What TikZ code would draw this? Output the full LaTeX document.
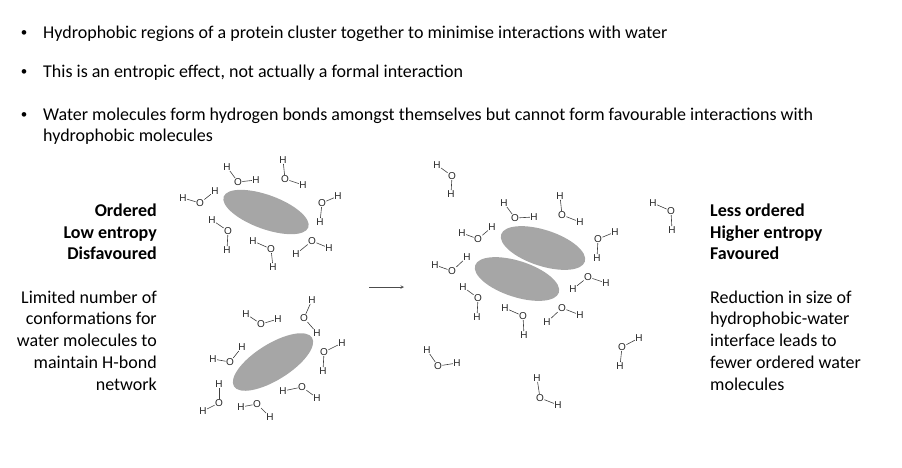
\documentclass[tikz,border=0pt]{standalone}
\usepackage{fontspec}
\setmainfont{Carlito}
\newfontfamily\wfont{Liberation Sans}
\newcounter{wc}
\newcommand{\water}[6]{%
  \stepcounter{wc}%
  \node[atom] (o\thewc) at (#1,#2) {O};
  \node[atom] (ha\thewc) at (#3,#4) {H};
  \node[atom] (hb\thewc) at (#5,#6) {H};
  \draw[bond] (o\thewc) -- (ha\thewc);
  \draw[bond] (o\thewc) -- (hb\thewc);}
\begin{document}
\begin{tikzpicture}[x=1pt,y=-1pt,
  atom/.style={font=\wfont\fontsize{10}{10}\selectfont,inner sep=0.3pt,text=black!85},
  bond/.style={draw=black!75,line width=0.6pt},
  txt/.style={font=\fontsize{18}{21}\selectfont,inner sep=0pt},
  blob/.style={fill=black!35,draw=none}]
\useasboundingbox (0,0) rectangle (902,467);
% bullets
\foreach \y/\t in {34/{Hydrophobic regions of a protein cluster together to minimise interactions with water},
  73/{This is an entropic effect, not actually a formal interaction},
  116/{Water molecules form hydrogen bonds amongst themselves but cannot form favourable interactions with}}
  {\node[txt,font=\fontsize{13}{13}\selectfont] at (24,\y) {•}; \node[txt,anchor=west] at (43,\y) {\t};}
\node[txt,anchor=west] (b3b) at (43,137) {hydrophobic molecules};
% left labels
\node[txt,anchor=east,align=right,font=\bfseries\fontsize{18}{21.5}\selectfont] (lt) at (157,232) {Ordered\\Low entropy\\Disfavoured};
\node[txt,anchor=east,align=right,font=\fontsize{18}{21.7}\selectfont] (lb) at (157,340.5) {Limited number of\\conformations for\\water molecules to\\maintain H-bond\\network};
\node[txt,anchor=west,align=left,font=\bfseries\fontsize{18}{21.5}\selectfont] (rt) at (710,232) {Less ordered\\Higher entropy\\Favoured};
\node[txt,anchor=west,align=left,font=\fontsize{18}{21.7}\selectfont] (rb) at (710,340.5) {Reduction in size of\\hydrophobic-water\\interface leads to\\fewer ordered water\\molecules};
% arrow
\coordinate (a1) at (369,287); \coordinate (a2) at (404,287);
\draw[-stealth,black!70,line width=0.6pt] (a1) -- (a2);
% blobs
\fill[blob,rotate around={-20:(266,212)}] (266,212) ellipse [x radius=45,y radius=17];
\fill[blob,rotate around={32:(273,362)}] (273,362) ellipse [x radius=46,y radius=18];
\fill[blob,rotate around={-18:(543,248)}] (543,248) ellipse [x radius=44,y radius=18];
\fill[blob,rotate around={-18:(517,279)}] (517,279) ellipse [x radius=44,y radius=18];
% waters left top
\water{238}{182}{227}{167}{256}{180}
\water{285}{179}{283}{160}{303}{185}
\water{200}{203}{183}{198}{215}{191}
\water{322}{203}{338}{196}{320}{222}
\water{228}{231}{212}{220}{227}{250}
\water{271}{249}{253}{241}{273}{267}
\water{312}{241}{296}{254}{329}{248}
% left bottom
\water{261}{324}{246}{314}{278}{319}
\water{304}{318}{312}{300}{317}{333}
\water{324}{352}{342}{343}{323}{371}
\water{230}{362}{213}{359}{242}{347}
\water{219}{403}{219}{384}{203}{411}
\water{257}{404}{241}{407}{270}{417}
\water{302}{387}{283}{391}{317}{398}
% right
\water{452}{176}{437}{165}{451}{194}
\water{515}{218}{504}{203}{534}{217}
\water{562}{215}{560}{196}{580}{222}
\water{671}{211}{653}{203}{672}{230}
\water{478}{239}{462}{233}{492}{227}
\water{598}{239}{615}{232}{597}{258}
\water{452}{271}{435}{265}{467}{257}
\water{588}{277}{573}{289}{606}{283}
\water{478}{298}{463}{287}{477}{317}
\water{523}{316}{505}{308}{524}{335}
\water{562}{308}{547}{322}{580}{315}
\water{438}{366}{427}{350}{457}{363}
\water{622}{347}{639}{338}{620}{366}
\water{540}{398}{537}{378}{558}{405}
\end{tikzpicture}
\end{document}
